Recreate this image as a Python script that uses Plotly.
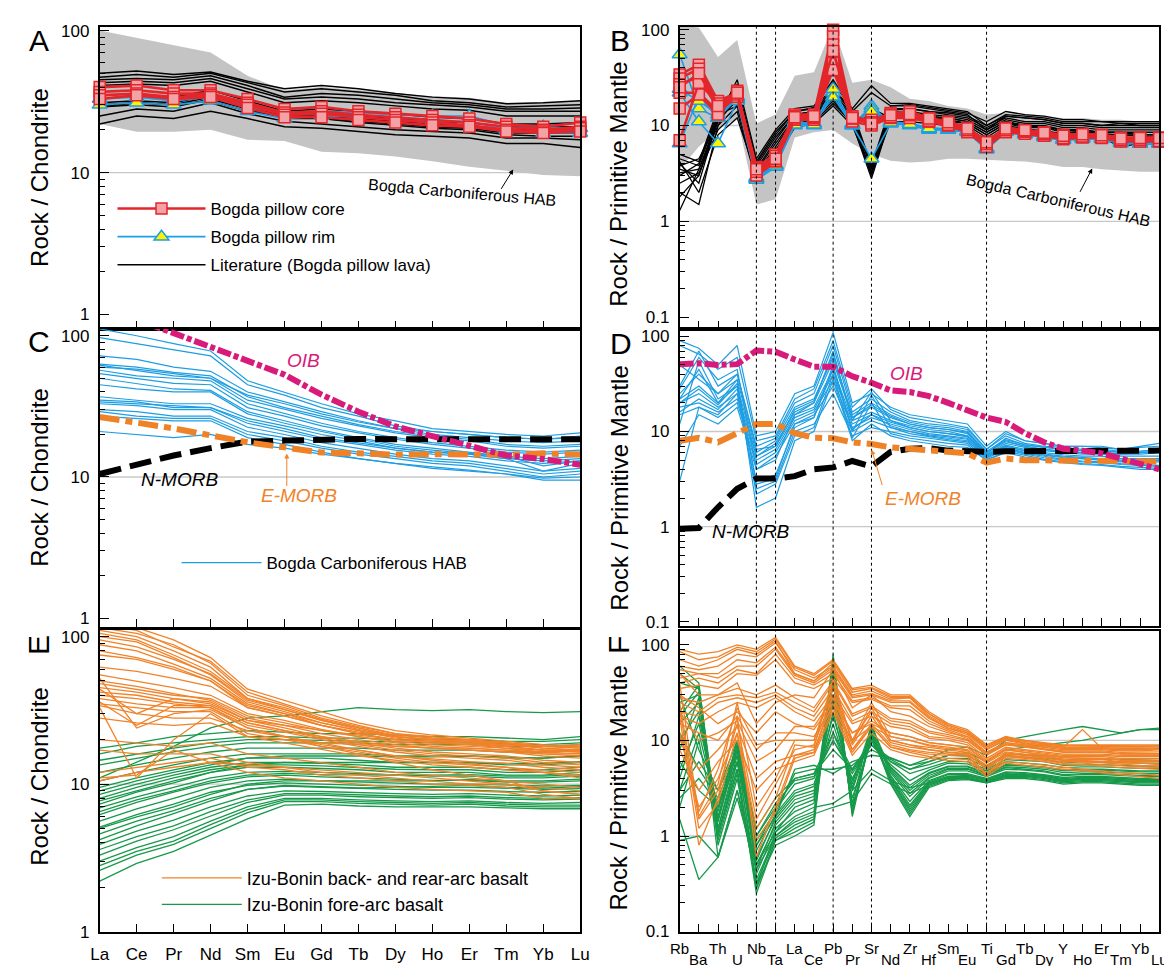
import plotly.graph_objects as go

# ---------------- categories ----------------
REE = ["La", "Ce", "Pr", "Nd", "Sm", "Eu", "Gd", "Tb", "Dy", "Ho", "Er", "Tm", "Yb", "Lu"]
SPIDER = ["Rb", "Ba", "Th", "U", "Nb", "Ta", "La", "Ce", "Pb", "Pr", "Sr", "Nd", "Zr",
          "Hf", "Sm", "Eu", "Ti", "Gd", "Tb", "Dy", "Y", "Ho", "Er", "Tm", "Yb", "Lu"]
DOTTED = ["Nb", "Ta", "Pb", "Sr", "Ti"]
LEFT_TICKS = [1, 10, 100]
RIGHT_TICKS = [0.1, 1, 10, 100]

# ---------------- Panel A (chondrite) ----------------
A_band_upper = [100, 89, 79, 70, 48, 38, 40, 38, 36, 34.5, 33.7, 31, 31, 32]
A_band_lower = [22, 19.4, 19.4, 20, 17, 16.7, 14, 13.7, 13, 12, 11, 10.3, 9.6, 9.4]
A_literature = [
    [50, 52, 49, 51, 44, 39, 41, 39, 36, 34, 33, 30.5, 31, 32],
    [47, 49, 47, 50, 43, 37, 39, 37, 35, 32, 31, 29, 29.5, 30],
    [45, 46, 45, 48, 41, 34, 36, 35, 33, 31, 30, 28, 28, 28.5],
    [43, 44, 43, 46, 39, 33, 34, 33, 31, 30, 29, 27, 27, 27],
    [41, 42, 41, 44, 37, 31, 32, 31, 29.5, 28, 27.5, 25, 25, 25],
    [33, 35, 34, 38, 32, 27, 28, 27, 26, 24.5, 24, 22, 22, 22.5],
    [31, 32, 31, 35, 30, 26, 26, 25, 24, 23, 22.5, 21, 21, 21],
    [30, 31, 30, 34, 29, 25, 25, 24, 23, 22, 21.5, 20, 20, 20],
    [29, 30, 29, 33, 28, 24, 24, 23, 22, 21, 20.5, 19, 19, 19],
    [25, 28, 27, 31, 26, 23, 22, 21, 20, 19.5, 19, 17.5, 17.5, 17],
    [22, 25, 24, 27, 24, 21, 20.5, 19.5, 18.5, 18, 17.5, 16, 16, 15],
    [29, 31, 30, 32, 27, 25, 24, 22.5, 21.5, 20.5, 20, 18.5, 18, 18],
]
A_rim = [
    [33, 34, 32, 34, 29, 26, 27, 26.5, 25.5, 25, 25, 21.5, 21, 20.5],
    [30, 31, 30, 32, 27, 24, 25, 24.5, 23.5, 23, 23, 20, 19, 19],
]
A_core = [
    [40, 41, 38, 38, 33, 28, 29, 27, 26, 25, 24, 22, 21, 22.5],
    [37, 38, 36, 36, 31, 26.5, 27, 25.5, 24.5, 23.5, 22.5, 21, 20, 21],
    [35, 36, 34, 35, 30, 25.5, 26, 24.5, 23.5, 22.5, 21.5, 20, 19.5, 20.5],
    [33, 35, 33, 34, 28.5, 24.5, 24.5, 23.5, 22.5, 21.5, 21, 19.5, 19, 19.5],
]

# ---------------- Panel B (primitive mantle) ----------------
B_band_upper = [110, 105, 52, 78, 10.5, 13, 33, 36, 110, 28, 30, 25, 19, 18, 16, 15, 13,
                13.5, 13, 12.5, 12, 12, 11.5, 11.5, 11, 11]
B_band_lower = [3.5, 6, 9, 12, 1.5, 1.7, 7.5, 8.5, 9, 6.5, 5, 4.3, 4.1, 4.2, 4.5, 4.5, 4.4,
                4.3, 4.2, 4.0, 3.7, 3.7, 3.5, 3.4, 3.3, 3.3]
B_literature = [
    [1.3, 3.5, 12, 30, 4.5, 9, 15, 16, 28, 15, 26, 17, 17, 16, 15, 14, 10, 13, 12.5, 12, 11, 11, 11, 10.5, 10.5, 10.5],
    [2.0, 1.5, 10, 25, 4.0, 8, 14, 15, 25, 14, 22, 16, 16, 15, 14, 13, 9, 12.5, 12, 11.5, 10.5, 10.5, 10, 10, 10, 10],
    [3.0, 4.0, 14, 22, 3.5, 7, 13, 14, 22, 13, 3.5, 15, 15, 14, 13, 12, 9.5, 12, 11, 11, 10, 10, 9.5, 9.5, 9.5, 9.5],
    [3.5, 3.0, 11, 20, 3.2, 6, 12, 13, 20, 12, 3.2, 14, 14, 13, 12.5, 11.5, 9, 11.5, 10.5, 10.5, 9.5, 9.5, 9, 9, 9, 9],
    [4.0, 2.5, 12, 18, 3.0, 5.5, 11, 12, 19, 11, 3.0, 13, 13, 12, 12, 11, 8.5, 11, 10, 10, 9, 9, 8.5, 8.5, 8.5, 8.5],
    [4.5, 3.8, 13, 16, 2.8, 5, 10.5, 11.5, 18, 10.5, 2.8, 12, 12, 11.5, 11, 10.5, 8, 10.5, 9.5, 9.5, 8.5, 8.5, 8, 8, 8, 8],
    [5.0, 4.2, 15, 24, 4.2, 8.5, 14, 15.5, 30, 14.5, 3.8, 16, 16.5, 15.5, 14.5, 13.5, 11, 14, 13, 12.5, 11.5, 11.5, 11, 11, 11, 11],
    [2.5, 3.2, 9, 14, 2.6, 4.5, 9.5, 10.5, 16, 10, 3.3, 11, 11, 10.5, 10, 9.5, 7, 9.5, 9, 8.5, 8, 8, 7.5, 7.2, 7, 7],
    [3.8, 4.5, 11, 19, 3.4, 6.5, 12, 13, 22, 12, 12, 13.5, 13.5, 12.5, 12, 11, 8.5, 11, 10, 9.5, 9, 8.5, 8.2, 8, 7.8, 7.5],
    [4.2, 2.0, 8, 12, 3.0, 5.0, 10, 11, 17, 10.5, 15, 12, 12, 11, 10.5, 10, 7.5, 10, 9.2, 8.8, 8.2, 7.8, 7.5, 6, 6.5, 6.3],
    [1.8, 3.0, 13, 27, 3.8, 7.5, 13, 14, 24, 13.5, 3.6, 14.5, 15, 14, 13.5, 12.5, 10, 12.5, 12, 11.5, 10.5, 10.5, 10, 10.5, 10, 10],
    [3.2, 3.5, 10, 16, 2.9, 5.5, 11, 12, 21, 11.5, 3.1, 12.5, 12.5, 12, 11.5, 10.5, 8, 10.5, 10, 9.5, 9, 9, 8.5, 8.5, 8, 8],
]
B_rim = [
    [55, 15, 12, 19, 2.8, 3.8, 10, 10, 22, 10, 16, 10.5, 10, 9, 9, 8.5, 5.6, 8.5, 8, 7.5, 7, 7.2, 7.2, 6.5, 6.5, 6.5],
    [22, 11, 6.5, 18, 2.7, 3.7, 10.5, 10.5, 20, 10, 4.5, 10.5, 10.5, 9.2, 9, 8.6, 5.7, 8.6, 8.1, 7.6, 7.1, 7.3, 7.3, 6.6, 6.4, 6.4],
    [6.5, 20, 12, 20, 2.9, 3.9, 11, 10.5, 24, 10.5, 15, 11, 10.5, 9.5, 9.2, 8.8, 5.8, 8.8, 8.3, 7.8, 7.3, 7.5, 7.4, 6.8, 6.6, 6.6],
    [24, 18, 13, 19, 2.8, 3.8, 10.2, 10.2, 50, 10.2, 14, 10.7, 10.3, 9.3, 9.1, 8.7, 5.7, 8.7, 8.2, 7.7, 7.2, 7.4, 7.3, 6.7, 6.5, 6.5],
]
B_core = [
    [34, 43, 18, 22, 3.7, 5.0, 13, 13, 100, 12.5, 11, 13.5, 14, 12, 11, 9.5, 6.8, 9.5, 9, 8.5, 8, 8.2, 8, 7.5, 7.5, 7.5],
    [31, 39, 16, 23, 3.4, 4.6, 12.5, 12.5, 85, 12, 10.5, 13, 13, 11.5, 10.5, 9, 6.5, 9, 8.8, 8.2, 7.7, 8, 7.8, 7.2, 7.2, 7.3],
    [27, 32, 15, 21, 3.2, 4.4, 12, 12, 70, 11.5, 11, 12.5, 12.5, 11, 10, 8.8, 6.3, 8.8, 8.5, 8, 7.5, 7.8, 7.6, 7, 7, 7],
    [22, 22, 14, 20, 3.0, 4.2, 11.5, 11.5, 55, 11, 10, 12, 12, 11, 10, 8.5, 6.0, 8.5, 8.2, 7.8, 7.2, 7.5, 7.4, 6.8, 6.8, 6.8],
    [15, 21, 13, 22, 3.3, 4.8, 12.5, 12, 45, 12, 11.5, 12.5, 13, 11.5, 10.5, 9.2, 6.6, 9.2, 8.6, 8.3, 7.6, 7.9, 7.7, 7.1, 7.3, 7.2],
    [7, 28, 17, 21, 3.6, 4.3, 11.8, 12.2, 38, 11.8, 10.8, 12.2, 12.8, 11.2, 10.2, 8.9, 6.4, 8.9, 8.7, 8.1, 7.4, 7.7, 7.5, 7.0, 7.1, 6.9],
    [25, 35, 16, 22, 3.5, 4.5, 12.2, 12.5, 60, 12, 10.5, 12.8, 13.2, 11.8, 10.8, 9.3, 6.7, 9.3, 8.9, 8.4, 7.8, 8.1, 7.9, 7.3, 7.4, 7.4],
]

# ---------------- Panel C (chondrite) ----------------
C_hab = [
    [112, 100, 88, 78, 48, 40, 33, 28, 25, 22, 21, 20, 19.5, 20.5],
    [97, 88, 80, 72, 45, 38, 31, 27, 23, 21, 20, 19, 18.5, 19],
    [72, 68, 60, 56, 40, 34, 29, 25, 22, 20, 19, 18, 17.5, 18],
    [63, 60, 55, 52, 37, 31, 27, 23.5, 21, 19.5, 18.5, 17, 16.5, 17],
    [60, 58, 54, 50, 35, 30, 26, 23, 20.5, 19, 18, 16.5, 16, 16.5],
    [57, 52, 50, 48, 33, 28, 24, 21, 19, 17.5, 16.5, 15.5, 15, 15.5],
    [54, 50, 46, 45, 31, 27, 23, 20.5, 18.5, 17, 16, 15, 14.5, 15],
    [50, 46, 42, 41, 29, 25, 21.5, 19, 17, 16, 15, 14, 13.5, 14],
    [37, 35, 33, 33, 26, 23, 20, 18, 16, 15, 14.5, 13.5, 13, 13.5],
    [35, 34, 31, 31, 24, 21, 18.5, 17, 15.5, 14.5, 14, 13, 12.5, 13],
    [33, 32, 30, 30, 22.5, 20, 17.5, 16, 14.5, 13.5, 13, 12, 11, 11.5],
    [30, 29, 27, 27, 21, 19, 16.5, 15, 14, 13, 12.5, 11.5, 10.5, 11],
    [29, 27, 26, 26, 20, 18, 16, 14.5, 13.5, 12.5, 12, 11, 10, 10.5],
    [21, 20, 19, 20, 17, 16, 14.5, 13.5, 12.5, 11.5, 11, 10.5, 9.8, 10],
    [45, 42, 40, 40, 28, 24, 21, 18.5, 16.5, 15.5, 14.8, 14, 12, 13],
    [62, 57, 52, 50, 38, 33, 28, 24.5, 22, 21, 20, 19, 18.5, 19.5],
    [34, 33, 32, 31, 25, 22, 19, 17.5, 16, 15, 14.5, 13.5, 11, 12.5],
    [27, 26, 25, 25, 19, 17, 15, 13.5, 12.5, 11.8, 11.2, 10.5, 9.5, 9.5],
]
C_oib = [156, 130, 104.5, 84, 67.6, 53, 38.3, 29, 22.8, 19.4, 16.4, 14.2, 13.4, 12.2]
C_emorb = [26.6, 24.5, 22.1, 19.7, 17.6, 16.2, 14.9, 14.7, 14.4, 14.5, 14.4, 14.4, 14.7, 14.4]
C_nmorb = [10.5, 12.2, 14.2, 16, 17.8, 18.1, 18.5, 18.6, 18.5, 18.5, 18.6, 18.5, 18.9, 18.5]

# ---------------- Panel D (primitive mantle) ----------------
D_hab = [
    [90, 75, 50, 80, 9, 10, 25, 30, 110, 20, 25, 18, 15, 14, 13, 12, 7, 10, 8, 7.5, 7, 7, 7, 6.5, 7, 7.5],
    [80, 65, 45, 60, 8, 9, 22, 28, 90, 18, 28, 17, 14, 13, 12, 11, 6.5, 9.5, 8, 7.5, 7, 7, 6.8, 6.5, 6.8, 7],
    [30, 70, 30, 40, 7, 8.5, 20, 25, 80, 16, 22, 16, 13, 12, 11.5, 10.5, 6.5, 9, 7.5, 7, 6.8, 6.5, 6.5, 6.2, 6.2, 6.5],
    [25, 40, 25, 35, 6, 8, 18, 22, 60, 15, 20, 15, 12.5, 11.5, 11, 10, 6, 8.5, 7.2, 6.8, 6.5, 6.3, 6.2, 6, 6, 6.2],
    [22, 30, 20, 30, 5.5, 7.5, 16, 20, 55, 14, 18, 14, 12, 11, 10.5, 9.5, 6, 8, 7, 6.5, 6.2, 6, 6, 5.8, 5.8, 6],
    [20, 25, 18, 25, 5.5, 7, 15, 18, 45, 13, 16, 13, 11.5, 10.5, 10, 9, 5.8, 7.5, 6.8, 6.3, 6, 5.8, 5.8, 5.5, 5.5, 5.5],
    [18, 20, 16, 22, 5, 6.5, 14, 17, 40, 12, 15, 12.5, 11, 10, 9.5, 8.8, 5.7, 7.2, 6.5, 6, 5.7, 5.5, 5.5, 5.2, 5.2, 5.2],
    [15, 18, 14, 20, 4.5, 6, 13, 16, 35, 11, 14, 12, 10.5, 9.5, 9, 8.5, 5.5, 7, 6.3, 5.8, 5.5, 5.3, 5.2, 5, 5, 5],
    [7, 15, 12, 18, 4, 5.5, 12, 15, 30, 10, 13, 11, 10, 9, 8.5, 8, 5.3, 6.8, 6, 5.6, 5.3, 5.2, 5, 4.8, 4.8, 4.8],
    [3, 18, 15, 25, 2.5, 3, 10, 12, 25, 9, 11, 10, 9, 8.5, 8, 7.5, 5.2, 6.5, 5.8, 5.3, 5, 4.8, 4.7, 4.5, 4.4, 4.3],
    [12, 55, 22, 30, 3, 3.5, 11, 14, 50, 10, 24, 11, 9.5, 8.8, 8.2, 7.8, 5.5, 6.6, 5.9, 5.5, 5.1, 4.9, 4.8, 4.6, 4.5, 4.4],
    [16, 22, 17, 28, 2.2, 2.8, 9, 11, 40, 8.5, 20, 9.5, 8.5, 8, 7.5, 7.2, 5, 6.2, 5.6, 5.1, 4.8, 4.6, 4.5, 4.3, 4.2, 4.1],
    [22, 45, 20, 35, 1.6, 2.0, 8, 10, 35, 8, 12, 9, 8, 7.5, 7, 6.8, 5, 6, 5.4, 5, 4.7, 4.5, 4.4, 4.2, 4, 4],
    [28, 60, 35, 45, 4, 5, 15, 20, 70, 13, 26, 13, 11, 10, 9.5, 9, 6, 7.8, 7, 6.5, 6.2, 6, 6, 5.8, 6, 6.3],
    [50, 35, 25, 40, 6.5, 7, 17, 21, 65, 14, 19, 14.5, 12, 11, 10.5, 9.8, 6.2, 8.2, 7.3, 6.8, 6.5, 6.3, 6.3, 6, 6.2, 6.5],
    [20, 28, 19, 32, 2.8, 3.2, 12, 14, 45, 10.5, 15, 11.5, 10, 9.2, 8.8, 8.3, 5.6, 7, 6.2, 5.7, 5.4, 5.2, 5.1, 4.9, 4.9, 5],
]
D_oib = [51, 52, 50, 51, 71, 69, 57, 48, 48, 38, 32.5, 27, 26, 23.5, 20, 17, 14, 12.6, 9.6,
         7.7, 6.6, 6.3, 5.9, 5.2, 4.5, 4.0]
D_emorb = [8, 8.6, 7.7, 9.6, 12, 12, 9.6, 8.6, 8.5, 7.7, 7.4, 6.8, 6.6, 6.3, 6.1, 5.9, 4.7,
           5.2, 5.0, 5.0, 5.0, 4.9, 4.9, 4.9, 4.9, 4.85]
D_nmorb = [0.95, 0.97, 1.6, 2.5, 3.2, 3.2, 3.4, 4.0, 4.2, 4.9, 4.3, 6.1, 6.6, 6.7, 6.3, 6.1,
           6.1, 6.2, 6.2, 6.2, 6.2, 6.2, 6.3, 6.3, 6.3, 6.3]

# ---------------- Panel E (chondrite) ----------------
E_backarc = [
    [120, 110, 85, 68, 42, 35, 29, 25, 22, 21, 20, 19, 18, 18],
    [110, 100, 80, 62, 38, 32, 27, 24, 21, 20, 19.5, 18.5, 17.5, 17],
    [100, 92, 72, 55, 36, 31, 26, 23, 20.5, 19.5, 19, 18, 17, 16.5],
    [115, 105, 88, 66, 40, 34, 28, 24.5, 22, 20.5, 20, 19, 18, 17.5],
    [88, 80, 65, 52, 35, 30, 25, 22, 20, 19, 18.5, 17.5, 16.5, 16],
    [62, 58, 52, 46, 33, 29, 25, 22, 20, 19, 18.5, 18, 17, 16.5],
    [55, 50, 45, 40, 30, 27, 23.5, 21, 19, 18, 17.5, 17, 16, 15.5],
    [50, 46, 41, 37, 28, 25, 22, 20, 18.5, 17.5, 17, 16.5, 15.5, 15],
    [45, 42, 38, 35, 27, 24, 21, 19, 17.5, 16.5, 16, 15.5, 14.5, 14],
    [40, 38, 35, 33, 25, 22.5, 20, 18, 16.5, 15.5, 15, 14.5, 13.5, 13],
    [38, 35, 33, 33, 24, 21, 18.5, 17, 15.5, 14.8, 14.2, 13.8, 13, 12.5],
    [36, 25, 34, 34, 26, 23, 21, 19.5, 18, 17.5, 17, 16.5, 16, 16],
    [35, 33, 31, 31, 22, 20, 18, 16.5, 15, 14, 13.5, 13, 12.5, 12],
    [33, 11, 20, 30, 21, 19, 17, 15.5, 14.5, 13.5, 13, 12.5, 12, 11.5],
    [20, 19, 18, 19, 16, 15, 14, 13, 12, 11.5, 11, 10.5, 10, 9.5],
    [17, 16, 16, 16, 14, 13, 12, 11.5, 11, 10.5, 10, 10, 9, 8.5],
    [12, 13, 14, 15, 13, 12.5, 11.5, 11, 10.5, 10, 9.8, 9.5, 8.5, 8],
    [11, 11.5, 17, 14, 12, 11, 10.5, 10, 9.5, 9.2, 9, 8.8, 8, 8],
    [44, 30, 38, 36, 27, 25, 23, 21.5, 20, 19.5, 19, 18.5, 18, 18.5],
    [28, 26, 25, 26, 21, 20, 19, 18.5, 18, 17.5, 17.5, 17, 16.5, 17],
    [75, 70, 60, 50, 33, 29, 25, 22.5, 21, 20, 19, 18, 17, 17],
    [10.5, 12, 13, 14, 13.5, 13, 12.5, 12, 11.5, 11, 10.5, 10, 9.5, 9],
    [120, 115, 95, 72, 44, 37, 31, 26, 23, 21.5, 20.5, 19.5, 18.5, 18],
    [105, 95, 75, 58, 38, 33, 27.5, 24, 21.5, 20.5, 20, 19, 18, 17.5],
    [95, 85, 70, 56, 37, 32, 27, 23.5, 21, 20, 19.5, 18.5, 17.5, 17],
    [80, 72, 62, 50, 34, 30, 26, 23, 21, 20, 19.5, 19, 18, 18],
    [48, 44, 40, 38, 29, 26, 23, 21, 19.5, 18.5, 18, 17.5, 17, 17],
    [42, 40, 36, 34, 26, 23, 20.5, 18.5, 17, 16, 15.5, 15, 14, 13.5],
    [34, 30, 28, 28, 23, 21, 19, 17, 15.5, 14.5, 13.8, 13, 12, 11],
    [52, 24, 30, 32, 24, 21, 18, 16, 14, 12.5, 11.5, 10.5, 9, 8.5],
]
E_forearc = [
    [11, 14, 18, 24, 28, 29, 31, 33, 32, 31.5, 32, 31, 30.5, 31],
    [17.5, 19, 21, 22, 23, 22.5, 22, 22, 21.5, 21, 21, 20.5, 20, 21],
    [16, 18, 19, 20, 21, 21, 20.5, 20.5, 20, 20, 20, 19.5, 19.5, 20],
    [13.5, 15, 16.5, 18, 19, 19, 19, 19, 18.5, 18.5, 18.5, 18, 18, 18.5],
    [12, 13.5, 15, 16.5, 17.5, 17.5, 17.5, 17.5, 17, 17, 17, 16.5, 16.5, 17],
    [10.5, 12, 13.5, 15, 16, 16, 16, 16, 15.5, 15.5, 15.5, 15, 15, 15.5],
    [9.5, 11, 12.5, 14, 15, 15, 15, 14.5, 14, 14, 14, 13.5, 13.5, 14],
    [8.5, 10, 11.5, 13, 14, 14, 13.8, 13.5, 13, 13, 13, 12.5, 12.5, 13],
    [7.7, 9, 10.5, 12, 13, 13, 12.8, 12.5, 12, 12, 12, 11.5, 11.5, 12],
    [6.9, 8.2, 9.5, 11, 12, 12.2, 12, 11.8, 11.5, 11.3, 11.3, 11, 11, 11.3],
    [6.2, 7.5, 8.8, 10.2, 11.2, 11.5, 11.2, 11, 10.8, 10.6, 10.6, 10.3, 10.3, 10.5],
    [5.6, 6.8, 8, 9.5, 10.5, 10.8, 10.5, 10.3, 10.1, 10, 10, 9.8, 9.7, 9.8],
    [5.1, 6.2, 7.3, 8.8, 9.8, 10.2, 10, 9.8, 9.6, 9.5, 9.5, 9.3, 9.2, 9.3],
    [4.6, 5.6, 6.6, 8, 9.2, 9.7, 9.5, 9.3, 9.2, 9.1, 9.1, 8.9, 8.8, 8.9],
    [3.9, 4.8, 5.7, 7, 8.3, 9, 8.9, 8.7, 8.6, 8.5, 8.6, 8.4, 8.3, 8.4],
    [3.3, 4.1, 4.9, 6.1, 7.5, 8.4, 8.4, 8.2, 8.1, 8, 8.1, 7.9, 7.8, 7.9],
    [3.0, 3.7, 4.4, 5.6, 7, 8, 8, 7.8, 7.7, 7.6, 7.7, 7.5, 7.4, 7.5],
    [2.6, 3.3, 3.9, 5, 6.4, 7.6, 7.6, 7.4, 7.3, 7.2, 7.3, 7.1, 7, 7],
    [2.2, 2.9, 3.5, 4.5, 5.8, 7.2, 7.3, 7.1, 7, 7, 7, 6.9, 6.8, 6.8],
    [5.0, 6, 7, 8.5, 10, 10.5, 10.5, 10.5, 10.5, 10.5, 10.7, 10.5, 10.5, 10.8],
    [7.3, 8.8, 10.2, 12, 13.5, 14, 14, 14, 14, 14, 14, 13.8, 13.8, 14.2],
    [4.2, 5.2, 6.3, 7.7, 9.2, 9.8, 9.6, 9.4, 9.5, 9.6, 9.8, 9.5, 9.4, 9.6],
    [9, 10.5, 12, 13.5, 15, 15.5, 15.5, 15.5, 15.3, 15.3, 15.5, 15.2, 15, 15.5],
    [6.5, 7.8, 9, 10.5, 11.5, 11.8, 11.6, 11.5, 11.5, 11.5, 11.6, 11.3, 11.3, 11.6],
    [14.5, 16, 17.5, 19, 20, 20, 19.8, 19.7, 19.3, 19, 19, 18.7, 18.5, 19],
    [8, 9.5, 11, 12.5, 13.5, 13.5, 13.3, 13, 12.6, 12.5, 12.5, 12, 12, 12.5],
    [3.6, 4.4, 5.2, 6.5, 7.8, 8.6, 8.6, 8.4, 8.3, 8.2, 8.3, 8.1, 8, 8.1],
    [2.8, 3.5, 4.1, 5.3, 6.7, 7.8, 7.8, 7.6, 7.5, 7.4, 7.5, 7.3, 7.2, 7.2],
]

# ---------------- Panel F (primitive mantle) ----------------
F_backarc = [
    [90, 80, 85, 100, 90, 120, 60, 50, 70, 35, 38, 30, 30, 20, 15, 13, 9, 11, 10, 9.5, 9, 9, 9, 9, 9, 9],
    [60, 55, 60, 80, 75, 105, 55, 45, 60, 30, 33, 27, 28, 18, 14, 12, 8.5, 10.5, 9.5, 9, 8.5, 8.5, 8.5, 8.5, 8.5, 8.5],
    [45, 50, 45, 60, 60, 90, 48, 40, 55, 28, 30, 25, 25, 17, 13.5, 11.5, 8, 10, 9.2, 8.8, 8.2, 8.2, 8.2, 8, 8, 8.2],
    [40, 45, 40, 55, 50, 80, 45, 38, 50, 26, 28, 23, 23, 16, 13, 11, 7.5, 9.5, 9, 8.5, 8, 8, 8, 7.8, 7.8, 8],
    [35, 38, 35, 50, 48, 70, 40, 35, 45, 25, 27, 22, 21, 15, 12.5, 10.5, 7.5, 9.2, 8.8, 8.2, 7.8, 7.8, 7.8, 7.5, 7.5, 7.6],
    [25, 20, 28, 30, 28, 32, 25, 20, 40, 18, 22, 16, 15, 12, 11, 10, 7, 9, 8.5, 8, 7.5, 7.5, 7.5, 7.2, 7.2, 7.2],
    [20, 18, 25, 28, 25, 30, 22, 18, 35, 16, 20, 15, 14, 11, 10.5, 9.5, 6.5, 8.5, 8, 7.6, 7.2, 7.2, 7.2, 7, 7, 7],
    [18, 15, 20, 25, 22, 28, 20, 16, 30, 15, 18, 14, 13, 10.5, 10, 9, 6.2, 8.2, 7.8, 7.4, 7, 7, 7, 6.8, 6.8, 6.8],
    [30, 22, 15, 20, 12, 20, 15, 13, 25, 12, 15, 12, 11, 9.5, 9, 8.5, 6, 8, 7.5, 7.2, 6.8, 6.8, 6.8, 6.5, 6.5, 6.5],
    [15, 12, 10, 18, 8, 12, 12, 11, 22, 10, 14, 11, 10, 9, 8.5, 8, 5.8, 7.6, 7.2, 7, 6.6, 6.6, 6.5, 6.3, 6.2, 6.2],
    [12, 1.8, 5, 22, 9, 10, 10, 10, 40, 10, 20, 10, 9, 8.5, 8, 7.5, 5.5, 7.2, 7, 6.8, 6.4, 6.4, 6.3, 6, 6, 6],
    [25, 1.5, 3, 15, 1.5, 3.5, 8, 9, 30, 9, 18, 9.5, 8.5, 8, 7.5, 7.2, 5, 7, 6.8, 6.5, 6.2, 6, 6, 5.8, 5.8, 5.6],
    [18, 0.8, 2.5, 18, 0.6, 2, 7, 8, 25, 8, 15, 9, 8, 7.5, 7.2, 7, 4.5, 6.8, 6.5, 6.2, 5.8, 5.8, 5.6, 5.4, 5.3, 5.2],
    [12, 2, 4, 12, 1.2, 2.5, 9, 8.5, 45, 9.5, 22, 10, 9, 8, 7.6, 7.3, 5, 7, 6.6, 6.3, 6, 6, 5.8, 5.6, 5.5, 5.4],
    [40, 1.6, 3.5, 25, 2.0, 4, 10, 10, 35, 10, 25, 11, 10, 8.8, 8.2, 7.8, 5.2, 7.4, 7, 6.6, 6.2, 6.2, 6.1, 5.9, 5.8, 5.7],
    [8, 3, 6, 10, 3, 5, 6, 7, 20, 7, 12, 8, 7, 6.5, 6.2, 6, 4.2, 5.8, 5.5, 5.2, 5, 4.8, 4.6, 4.4, 4.2, 4],
    [10, 5, 8, 14, 4, 6, 7, 7.5, 30, 8, 14, 8.5, 7.5, 6.8, 6.5, 6.3, 4.5, 6, 5.8, 5.5, 5.2, 5, 4.8, 4.6, 4.5, 4.3],
    [50, 30, 30, 40, 15, 25, 30, 28, 55, 22, 30, 20, 18, 14, 12, 11, 7.5, 9.5, 9, 8.6, 8.5, 13, 8.3, 8, 8, 8.2],
    [70, 60, 70, 90, 80, 110, 50, 42, 65, 32, 35, 28, 28, 19, 14.5, 12.5, 8.5, 10.5, 9.8, 9.2, 8.8, 8.8, 8.7, 8.6, 8.6, 8.8],
    [20, 10, 12, 16, 6, 8, 14, 14, 28, 12, 16, 12, 11, 9.5, 9, 8.5, 6, 8, 7.5, 7, 6.6, 6.5, 6.5, 6.2, 6.2, 6.2],
    [85, 70, 75, 95, 85, 115, 58, 48, 68, 34, 36, 29, 29, 19, 14.5, 12.5, 8.8, 10.8, 10, 9.3, 8.9, 8.9, 8.9, 8.8, 8.8, 8.8],
    [55, 50, 50, 70, 65, 95, 50, 42, 58, 29, 31, 26, 26, 17.5, 13.5, 12, 8.2, 10.2, 9.4, 9, 8.4, 8.4, 8.4, 8.2, 8.2, 8.3],
    [28, 25, 30, 35, 30, 38, 28, 22, 42, 19, 23, 17, 16, 12.5, 11.5, 10.2, 7.2, 9.1, 8.6, 8.1, 7.6, 7.6, 7.6, 7.3, 7.3, 7.3],
    [22, 1.2, 2.2, 12, 0.9, 1.8, 6.5, 7.5, 22, 7.5, 14, 8.5, 7.8, 7.2, 7, 6.8, 4.4, 6.5, 6.3, 6, 5.6, 5.6, 5.4, 5.2, 5.1, 5],
]
F_forearc = [
    [60, 40, 1.0, 5, 0.25, 0.9, 1.2, 1.5, 80, 1.6, 12, 3.5, 1.6, 3.2, 3.8, 3.9, 3.6, 4, 4, 3.8, 3.5, 3.6, 3.6, 3.5, 3.4, 3.4],
    [40, 35, 0.8, 4, 0.3, 0.8, 1.0, 1.3, 60, 1.8, 13, 3.8, 1.8, 3.4, 4, 4, 3.7, 4.2, 4.2, 4, 3.7, 3.8, 3.8, 3.7, 3.6, 3.6],
    [25, 30, 0.6, 3, 0.35, 1.0, 1.5, 1.8, 40, 2.0, 11, 4, 2.0, 3.6, 4.2, 4.2, 3.8, 4.4, 4.4, 4.2, 3.9, 4, 4, 3.9, 3.8, 3.8],
    [15, 25, 1.2, 6, 0.4, 1.2, 1.8, 2.2, 30, 2.5, 10, 4.3, 2.3, 3.8, 4.5, 4.5, 4, 4.7, 4.6, 4.4, 4.1, 4.2, 4.2, 4.1, 4, 4],
    [10, 20, 1.5, 8, 0.5, 1.3, 2.2, 2.6, 20, 3, 12, 4.6, 2.6, 4, 4.8, 4.8, 4.2, 5, 4.9, 4.7, 4.3, 4.4, 4.4, 4.3, 4.2, 4.2],
    [5, 15, 2, 9, 0.6, 1.5, 2.6, 3, 15, 3.5, 14, 5, 3, 4.3, 5.1, 5.1, 4.4, 5.3, 5.2, 5, 4.6, 4.7, 4.7, 4.6, 4.5, 4.5],
    [3, 12, 1.8, 10, 0.7, 1.7, 3, 3.5, 12, 4, 10, 5.3, 3.4, 4.6, 5.4, 5.4, 4.6, 5.6, 5.5, 5.3, 4.9, 5, 5, 4.9, 4.8, 4.8],
    [2, 10, 1.0, 6, 0.8, 1.9, 3.5, 4, 10, 4.5, 9, 5.6, 3.8, 4.9, 5.8, 5.7, 4.8, 6, 5.8, 5.6, 5.2, 5.3, 5.3, 5.2, 5.1, 5.1],
    [0.9, 1.0, 0.6, 3, 0.5, 1.1, 1.6, 2, 2.2, 3, 5, 3.8, 3.2, 3.6, 4.2, 4.3, 3.9, 4.5, 4.4, 4.3, 3.8, 4.1, 4.1, 4, 3.9, 4],
    [1.5, 0.35, 0.6, 2.5, 0.45, 1.0, 1.4, 1.7, 2, 2.3, 4.5, 3.5, 2.8, 3.4, 4, 4.1, 3.6, 4.3, 4.2, 4.1, 3.7, 4, 3.9, 3.8, 3.7, 3.7],
    [20, 38, 1.2, 7, 0.3, 1.1, 2, 2.4, 50, 2.2, 15, 4.2, 2.1, 3.7, 4.4, 4.4, 3.9, 4.6, 4.5, 4.3, 4, 4.1, 4.1, 4, 3.9, 3.9],
    [8, 28, 1.4, 8, 0.45, 1.4, 2.4, 2.8, 25, 3.2, 13, 4.8, 2.8, 4.1, 5, 5, 4.3, 5.2, 5, 4.8, 4.4, 4.5, 4.5, 4.4, 4.3, 4.3],
    [4, 18, 1.6, 9, 0.55, 1.6, 2.8, 3.3, 18, 3.8, 11, 5.2, 3.2, 4.5, 5.3, 5.3, 4.5, 5.5, 5.4, 5.2, 4.8, 4.9, 4.9, 4.8, 4.7, 4.7],
    [30, 8, 3, 10, 1.0, 2.0, 4, 4.5, 8, 5, 9, 6, 4.5, 5.2, 6, 6, 5, 6.3, 6.2, 6, 5.5, 5.6, 5.6, 5.5, 5.4, 5.4],
    [12, 5, 2.5, 8, 0.9, 1.8, 4.5, 5, 5, 5.5, 8, 6.3, 5, 5.6, 6.5, 6.5, 5.2, 6.8, 6.7, 6.4, 5.8, 6, 6, 5.9, 5.8, 5.8],
    [6, 3, 2, 6, 0.8, 1.6, 5, 5.5, 4.5, 6, 7, 6.6, 5.5, 6, 7, 7, 5.4, 7.2, 7.1, 6.8, 6.2, 6.4, 6.4, 6.3, 6.2, 6.2],
    [50, 35, 1.1, 5, 0.28, 0.9, 1.1, 1.4, 70, 1.7, 12, 3.6, 1.7, 3.3, 3.9, 4, 3.6, 4.1, 4.1, 3.9, 3.6, 3.7, 3.7, 3.6, 3.5, 3.5],
    [18, 32, 0.9, 4.5, 0.32, 0.95, 1.3, 1.6, 45, 1.9, 11, 3.9, 1.9, 3.5, 4.1, 4.1, 3.7, 4.3, 4.3, 4.1, 3.8, 3.9, 3.9, 3.8, 3.7, 3.7],
    [3, 6, 3, 8, 1.2, 2.5, 4, 4.5, 12, 5, 10, 6, 5, 6, 7, 7.5, 6, 8, 8.5, 9, 9.5, 10, 11, 12, 13, 13],
    [2.5, 4, 2.2, 7, 1.0, 2.2, 3.8, 4.2, 10, 4.8, 9, 6.5, 5.5, 6.5, 8, 8.5, 7, 10, 11, 12, 13, 14, 13, 12, 13, 13.5],
]

# ---------------- styling ----------------
FONT = "Liberation Sans, Arial, sans-serif"
W, H = 1172, 966
RED = "#e3262b"
PINK = "#f3a2a6"
RIMBLUE = "#1c9fe4"
YELLOW = "#fff200"
HABBLUE = "#1e9ee2"
ORANGE = "#f0832a"
GREEN = "#17994a"
MAGENTA = "#d81b7a"
EMORB = "#ef8227"
GRAY = "#c4c4c4"


def px(x):
    return x / W


def py(y):
    return 1 - y / H


LEFT = [px(84), px(572)]
RIGHT = [px(673), px(1160)]

fig = go.Figure()
xr = list(range(len(REE)))
xs = list(range(len(SPIDER)))


def check(rows, n, label):
    for i, r in enumerate(rows):
        if len(r) != n:
            raise ValueError(f"{label}[{i}] has {len(r)} values, expected {n}")


def add_lines(rows, x, ax, color, width, legend=None, name=None, rank=None):
    check(rows, len(x), name or color)
    for i, r in enumerate(rows):
        show = legend is not None and i == 0
        fig.add_trace(go.Scatter(
            x=x, y=r, xaxis="x" + ax, yaxis="y" + ax, mode="lines",
            line=dict(color=color, width=width), name=name or "",
            showlegend=show, legend=legend if legend else "legend",
            legendgroup=name or None,
            legendrank=rank if rank else 1000, hoverinfo="skip"))


def add_band(upper, lower, x, ax):
    fig.add_trace(go.Scatter(
        x=x + x[::-1], y=upper + lower[::-1], xaxis="x" + ax, yaxis="y" + ax,
        fill="toself", fillcolor=GRAY, line=dict(width=0), mode="lines",
        showlegend=False, hoverinfo="skip"))


def add_marked(rows, x, ax, lcolor, lwidth, symbol, msize, mfill, medge, legend_name=None, rank=None):
    check(rows, len(x), legend_name or "marked")
    for i, r in enumerate(rows):
        fig.add_trace(go.Scatter(
            x=x, y=r, xaxis="x" + ax, yaxis="y" + ax, mode="lines+markers",
            line=dict(color=lcolor, width=lwidth),
            marker=dict(symbol=symbol, size=msize, color=mfill, line=dict(color=medge, width=1.5)),
            name=legend_name or "", showlegend=(legend_name is not None and i == 0),
            legend="legend", legendgroup=legend_name, legendrank=rank if rank else 1000,
            cliponaxis=False, hoverinfo="skip"))


def add_ref(vals, x, ax, color, dash):
    fig.add_trace(go.Scatter(
        x=x, y=vals, xaxis="x" + ax, yaxis="y" + ax, mode="lines",
        line=dict(color=color, width=6, dash=dash), showlegend=False, hoverinfo="skip"))


# ----- Panel A -----
add_band(A_band_upper, A_band_lower, xr, "")
add_lines(A_literature, xr, "", "black", 1.5, legend="legend", name="Literature (Bogda pillow lava)", rank=3)
add_marked(A_rim, xr, "", RIMBLUE, 1.6, "triangle-up", 13, YELLOW, RIMBLUE, "Bogda pillow rim", 2)
add_marked(A_core, xr, "", RED, 2.6, "square", 11, PINK, RED, "Bogda pillow core", 1)

# ----- Panel B -----
add_band(B_band_upper, B_band_lower, xs, "2")
add_lines(B_literature, xs, "2", "black", 1.3)
add_marked(B_rim, xs, "2", RIMBLUE, 1.6, "triangle-up", 13, YELLOW, RIMBLUE)
add_marked(B_core, xs, "2", RED, 2.6, "square", 11, PINK, RED)

# ----- Panel C -----
add_lines(C_hab, xr, "3", HABBLUE, 1.2, legend="legend2", name="Bogda Carboniferous HAB")
add_ref(C_nmorb, xr, "3", "black", "22px,9px")
add_ref(C_emorb, xr, "3", EMORB, "20px,6px,7px,6px")
add_ref(C_oib, xr, "3", MAGENTA, "14px,3px,5px,3px")

# ----- Panel D -----
add_lines(D_hab, xs, "4", HABBLUE, 1.2)
add_ref(D_nmorb, xs, "4", "black", "22px,9px")
add_ref(D_emorb, xs, "4", EMORB, "20px,6px,7px,6px")
add_ref(D_oib, xs, "4", MAGENTA, "14px,3px,5px,3px")

# ----- Panel E -----
add_lines(E_forearc, xr, "5", GREEN, 1.3, legend="legend3", name="Izu-Bonin fore-arc basalt", rank=2)
add_lines(E_backarc, xr, "5", ORANGE, 1.3, legend="legend3", name="Izu-Bonin back- and rear-arc basalt", rank=1)

# ----- Panel F -----
add_lines(F_forearc, xs, "6", GREEN, 1.3)
add_lines(F_backarc, xs, "6", ORANGE, 1.3)

# ---------------- axes ----------------
MINOR_LEFT = [v * m for m in (1, 10) for v in range(2, 10)]
MINOR_RIGHT = [round(v * m, 3) for m in (0.1, 1, 10) for v in range(2, 10)]


def fmt(v):
    return "0.1" if v == 0.1 else str(int(v))


def yax(dom, rng, ticks, minor, anchor):
    return dict(type="log", domain=dom, range=rng, tickmode="array", tickvals=ticks,
                ticktext=[fmt(t) for t in ticks], ticks="inside", ticklen=9, tickwidth=1.3,
                tickcolor="black", showline=True, linewidth=1.8, linecolor="black", mirror=True,
                showgrid=False, zeroline=False, anchor=anchor,
                tickfont=dict(size=17, family=FONT, color="black"), ticklabelstandoff=5,
                minor=dict(tickmode="array", tickvals=minor, ticks="inside", ticklen=5,
                           tickwidth=1, tickcolor="black", showgrid=False))


def xax(dom, n, anchor, labels=None):
    d = dict(domain=dom, range=[0, n - 1], tickmode="array", tickvals=list(range(n)),
             ticks="inside", ticklen=8, tickwidth=1.3, tickcolor="black", showline=True,
             linewidth=1.8, linecolor="black", mirror=True, showgrid=False, zeroline=False,
             anchor=anchor, showticklabels=labels is not None,
             tickfont=dict(size=17, family=FONT, color="black"))
    if labels is not None:
        d["ticktext"] = labels
        d["ticklabelstandoff"] = 6
    return d


ROW_A = [py(320), py(13)]
ROW_C = [py(623), py(320)]
ROW_E = [py(933), py(626)]
ROW_B = [py(320), py(13)]
ROW_D = [py(622), py(320)]
ROW_F = [py(933), py(627)]

fig.update_layout(
    xaxis=xax(LEFT, 14, "y"),
    yaxis=yax(ROW_A, [-0.1, 2.027], LEFT_TICKS, MINOR_LEFT, "x"),
    xaxis2=xax(RIGHT, 26, "y2"),
    yaxis2=yax(ROW_B, [-1.12, 2.03], RIGHT_TICKS, MINOR_RIGHT, "x2"),
    xaxis3=xax(LEFT, 14, "y3"),
    yaxis3=yax(ROW_C, [-0.06, 2.05], LEFT_TICKS, MINOR_LEFT, "x3"),
    xaxis4=xax(RIGHT, 26, "y4"),
    yaxis4=yax(ROW_D, [-1.04, 2.08], RIGHT_TICKS, MINOR_RIGHT, "x4"),
    xaxis5=xax(LEFT, 14, "y5", REE),
    yaxis5=yax(ROW_E, [0, 2.047], LEFT_TICKS, MINOR_LEFT, "x5"),
    xaxis6=xax(RIGHT, 26, "y6"),
    yaxis6=yax(ROW_F, [-1.0, 2.15], RIGHT_TICKS, MINOR_RIGHT, "x6"),
)

# ---------------- gridlines and dotted element lines ----------------
shapes = []
for ax, vals in (("", [10]), ("3", [10]), ("5", [10]), ("2", [10, 1]), ("4", [10, 1]), ("6", [10, 1])):
    for v in vals:
        shapes.append(dict(type="line", xref=f"x{ax} domain", yref=f"y{ax}", x0=0, x1=1, y0=v, y1=v,
                           line=dict(color="#c8c8c8", width=1.3), layer="below"))
for ax in ("2", "4", "6"):
    for el in DOTTED:
        i = SPIDER.index(el)
        shapes.append(dict(type="line", xref=f"x{ax}", yref=f"y{ax} domain", x0=i, x1=i, y0=0, y1=1,
                           line=dict(color="black", width=1, dash="dot"), layer="above"))
fig.update_layout(shapes=shapes)

# ---------------- annotations ----------------
ann = []


def text(x, y, s, size, color="black", angle=0, italic=False):
    ann.append(dict(x=px(x), y=py(y), xref="paper", yref="paper", text=f"<i>{s}</i>" if italic else s,
                    showarrow=False, textangle=angle, xanchor="center", yanchor="middle",
                    font=dict(size=size, color=color, family=FONT)))


def arrow(tip, tail, color="black"):
    ann.append(dict(x=px(tip[0]), y=py(tip[1]), xref="paper", yref="paper", text="",
                    showarrow=True, ax=tail[0] - tip[0], ay=tail[1] - tip[1], arrowhead=2,
                    arrowsize=1, arrowwidth=1, arrowcolor=color))


# panel letters
text(22, 27, "A", 30)
text(612, 27, "B", 30)
text(22, 333, "C", 30)
text(613, 335, "D", 30)
text(22, 642, "E", 30, angle=-90)
text(611, 642, "F", 30, angle=-90)
# axis titles
text(23, 166, "Rock / Chondrite", 24, angle=-90)
text(23, 471, "Rock / Chondrite", 24, angle=-90)
text(23, 775, "Rock / Chondrite", 24, angle=-90)
text(611, 173, "Rock / Primitive Mantle", 24, angle=-90)
text(611, 482, "Rock / Primitive Mantle", 24, angle=-90)
text(611, 787, "Rock / Primitive Mantle", 24, angle=-90)
# panel A / B notes
text(452, 181, "Bogda Carboniferous HAB", 16, angle=5)
arrow((504, 158), (491, 179))
text(1058, 190, "Bogda Carboniferous HAB", 16, angle=13)
arrow((1092, 157), (1079, 182))
# panel C notes
text(291, 352, "OIB", 19, MAGENTA, italic=True)
text(165, 473, "N-MORB", 19, "black", italic=True)
text(286, 490, "E-MORB", 19, ORANGE, italic=True)
arrow((274, 447), (274, 481), ORANGE)
# panel D notes
text(903, 366, "OIB", 19, MAGENTA, italic=True)
text(920, 493, "E-MORB", 19, ORANGE, italic=True)
text(745, 526, "N-MORB", 19, "black", italic=True)
arrow((868, 443), (879, 480), ORANGE)
# F element labels (staggered)
for i, el in enumerate(SPIDER):
    ann.append(dict(x=i, y=py(950 if i % 2 == 0 else 961), xref="x6", yref="paper", text=el,
                    showarrow=False, xanchor="center", yanchor="middle",
                    font=dict(size=15, family=FONT, color="black")))
fig.update_layout(annotations=ann)


# ---------------- legends & layout ----------------
def leg(x, y, size, gap, iw, order):
    return dict(x=px(x), y=py(y), xanchor="left", yanchor="top", bgcolor="rgba(0,0,0,0)",
                borderwidth=0, font=dict(size=size, family=FONT, color="black"), itemwidth=iw,
                tracegroupgap=gap, traceorder=order)


fig.update_layout(
    width=W, height=H, margin=dict(l=0, r=0, t=0, b=0),
    paper_bgcolor="white", plot_bgcolor="white",
    font=dict(family=FONT, color="black"),
    legend=leg(97, 180, 17, 3, 88, "grouped"),
    legend2=leg(162, 540, 17, 0, 80, "grouped"),
    legend3=leg(142, 860, 18, 0, 80, "normal"),
)

fig.write_html("out.html")
